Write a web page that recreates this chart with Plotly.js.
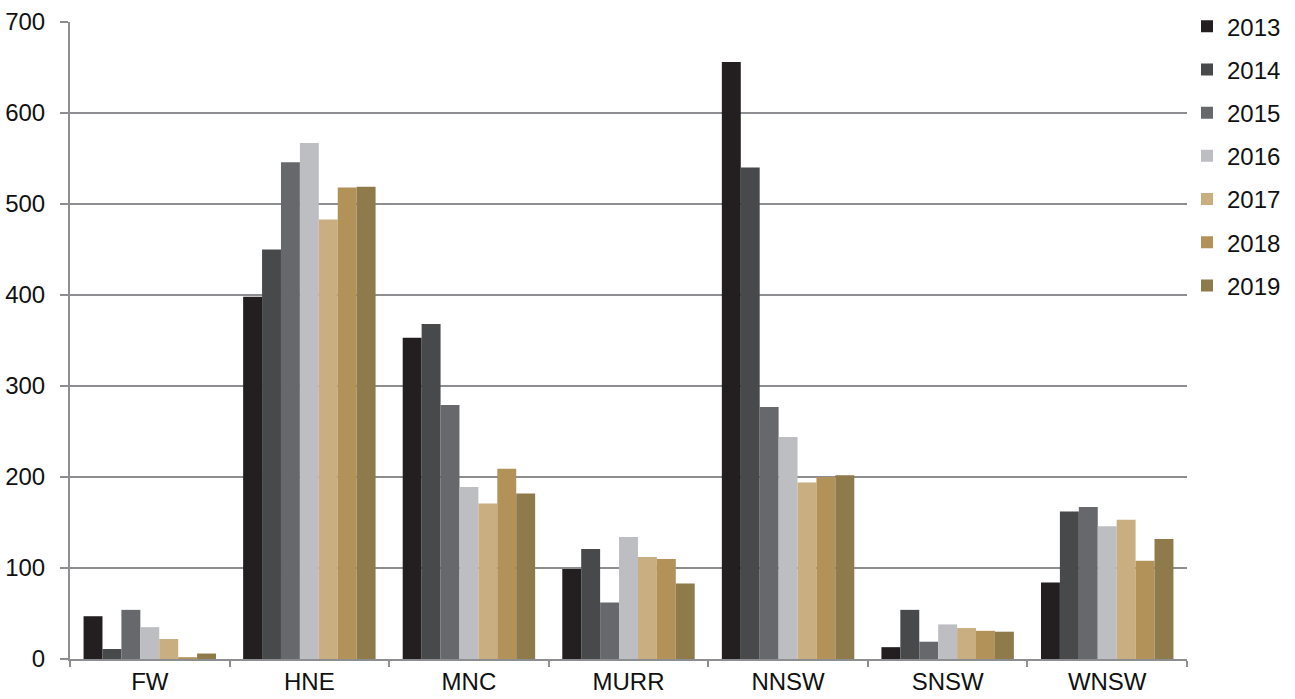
<!DOCTYPE html>
<html>
<head>
<meta charset="utf-8">
<script src="https://cdn.plot.ly/plotly-3.0.1.min.js"></script>
<style>html,body{margin:0;padding:0;background:#fff;}#chart{width:1295px;height:699px;}</style>
</head>
<body>
<div id="chart"></div>
<script>
const categories = ["FW", "HNE", "MNC", "MURR", "NNSW", "SNSW", "WNSW"];
const years = ["2013", "2014", "2015", "2016", "2017", "2018", "2019"];
const v2013 = [47, 398, 353, 99, 656, 13, 84];
const v2014 = [11, 450, 368, 121, 540, 54, 162];
const v2015 = [54, 546, 279, 62, 277, 19, 167];
const v2016 = [35, 567, 189, 134, 244, 38, 146];
const v2017 = [22, 483, 171, 112, 194, 34, 153];
const v2018 = [2, 518, 209, 110, 200, 31, 108];
const v2019 = [6, 519, 182, 83, 202, 30, 132];
const colors = ["#231f20", "#48494b", "#67686c", "#bdbec2", "#c8ae80", "#b3925a", "#8e7a4b"];
const series = [v2013, v2014, v2015, v2016, v2017, v2018, v2019];

const traces = series.map((vals, i) => ({
  type: "bar",
  name: years[i],
  x: categories,
  y: vals,
  legendgroup: years[i],
  marker: {color: colors[i], line: {width: 0}},
  hoverinfo: "x+y+name"
}));

const layout = {
  width: 1295,
  height: 699,
  margin: {l: 70, r: 108, t: 22, b: 40, autoexpand: false},
  paper_bgcolor: "#ffffff",
  plot_bgcolor: "#ffffff",
  font: {family: "Liberation Sans, Arial, sans-serif", size: 24, color: "#111111"},
  barmode: "group",
  bargap: 0.17,
  bargroupgap: 0,
  showlegend: true,
  legend: {
    x: 1.0, xanchor: "left", y: 1.028, yanchor: "top",
    font: {size: 24, color: "#111111"},
    tracegroupgap: 9,
    itemwidth: 30,
    bgcolor: "rgba(0,0,0,0)"
  },
  xaxis: {
    type: "category",
    tickson: "boundaries",
    ticks: "outside",
    ticklen: 6,
    tickwidth: 2,
    tickcolor: "#8d8e92",
    showline: true,
    linecolor: "#8d8e92",
    linewidth: 2,
    showgrid: false,
    tickfont: {size: 24, color: "#111111"}
  },
  yaxis: {
    range: [0, 700],
    dtick: 100,
    ticks: "outside",
    ticklen: 8,
    tickwidth: 2,
    tickcolor: "#8d8e92",
    ticklabelstandoff: 10,
    showline: true,
    linecolor: "#8d8e92",
    linewidth: 2,
    showgrid: true,
    gridcolor: "#8d8e92",
    gridwidth: 2,
    zeroline: false,
    tickfont: {size: 24, color: "#111111"}
  }
};

Plotly.newPlot("chart", traces, layout, {displayModeBar: false, staticPlot: true});
</script>
</body>
</html>
